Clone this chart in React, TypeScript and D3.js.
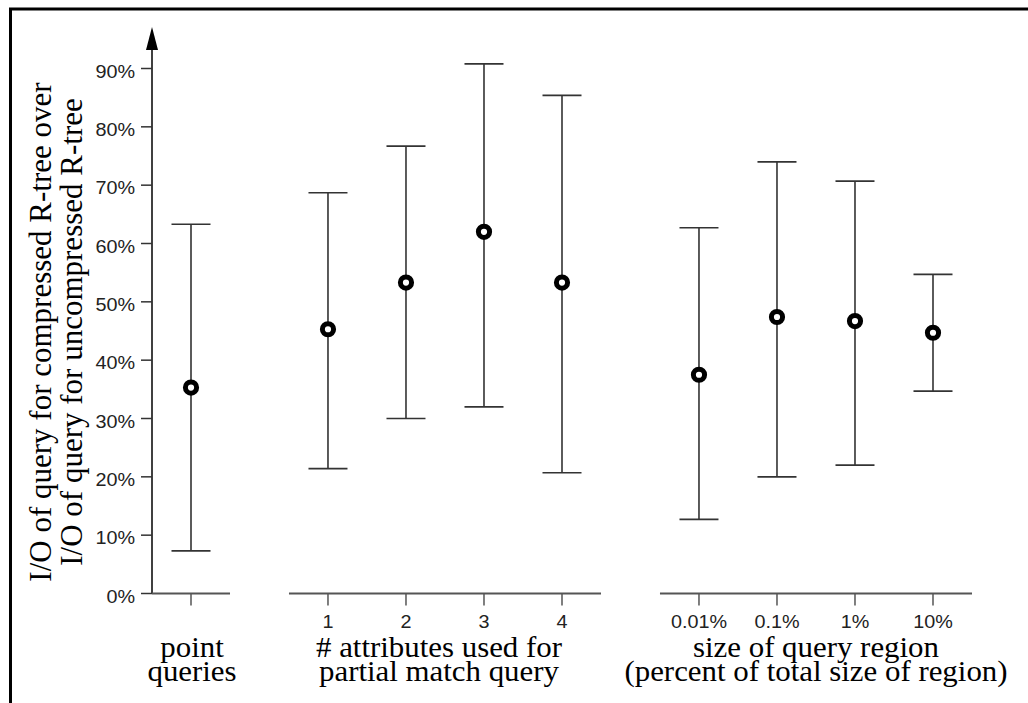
import React from "react";
import * as d3 from "d3";

// y tick values (fractions)
const yTicks = [0, 0.1, 0.2, 0.3, 0.4, 0.5, 0.6, 0.7, 0.8, 0.9];

// group 1: point queries
const pointTitle = ["point", "queries"];
const pointTicks = [""];
const pointMid = [0.353];
const pointLow = [0.073];
const pointHigh = [0.633];

// group 2: # attributes used for partial match query
const attrTitle = ["# attributes used for", "partial match query"];
const attrTicks = ["1", "2", "3", "4"];
const attrMid = [0.453, 0.533, 0.62, 0.533];
const attrLow = [0.214, 0.3, 0.32, 0.207];
const attrHigh = [0.687, 0.767, 0.908, 0.854];

// group 3: size of query region
const regionTitle = ["size of query region", "(percent of total size of region)"];
const regionTicks = ["0.01%", "0.1%", "1%", "10%"];
const regionMid = [0.375, 0.474, 0.467, 0.447];
const regionLow = [0.127, 0.2, 0.22, 0.347];
const regionHigh = [0.627, 0.74, 0.707, 0.547];

const yTitle = ["I/O of query for compressed R-tree over", "I/O of query for uncompressed R-tree"];

const SANS = "'Liberation Sans', Arial, sans-serif";
const SERIF = "'Liberation Serif', 'Times New Roman', serif";

export default function App() {
  const W = 1028;
  const H = 703;
  const groups = [
    { title: pointTitle, ticks: pointTicks, mid: pointMid, low: pointLow, high: pointHigh, shift: 1 },
    { title: attrTitle, ticks: attrTicks, mid: attrMid, low: attrLow, high: attrHigh, shift: -6 },
    { title: regionTitle, ticks: regionTicks, mid: regionMid, low: regionLow, high: regionHigh, shift: 0 },
  ];

  // layout in "slot" units, with a gap between groups
  const gap = 0.756;
  let acc = 0;
  const offsets = groups.map((g, i) => {
    const o = acc;
    acc += g.mid.length + (i < groups.length - 1 ? gap : 0);
    return o;
  });
  const total = acc;

  const x = d3.scaleLinear().domain([0, total]).range([152, 972]);
  const y = d3.scaleLinear().domain([0, 0.9]).range([593.5, 68.5]);
  const fmt = d3.format(".0%");
  const axisX = x(0);
  const capHalf = (x(1) - x(0)) / 4;

  return (
    <svg
      width={W}
      height={H}
      style={{ position: "absolute", left: 0, top: 0, background: "#fff" }}
    >
      {/* frame: only top and left */}
      <path d={`M10.5,${H} V9 H${W}`} fill="none" stroke="#000" strokeWidth={3} />

      {/* y title */}
      <g transform={`translate(0,332) rotate(-90)`}>
        {yTitle.map((t, i) => (
          <text
            key={i}
            x={0}
            y={51 + i * 31}
            textAnchor="middle"
            fontFamily={SERIF}
            fontSize={31}
            fill="#000"
          >
            {t}
          </text>
        ))}
      </g>

      {/* y axis with arrow */}
      <line x1={axisX} x2={axisX} y1={y(0)} y2={50} stroke="#000" strokeWidth={1.5} />
      <path d={`M${axisX - 6},50 L${axisX + 6},50 L${axisX},27 Z`} fill="#000" />
      {yTicks.map((t) => (
        <g key={t}>
          <line x1={axisX - 11} x2={axisX} y1={y(t)} y2={y(t)} stroke="#333" strokeWidth={1.5} />
          <text
            transform={`translate(135,${y(t) + 9}) scale(1.1,1)`}
            textAnchor="end"
            fontFamily={SANS}
            fontSize={18}
            fill="#222"
          >
            {fmt(t)}
          </text>
        </g>
      ))}

      {groups.map((g, gi) => {
        const o = offsets[gi];
        const n = g.mid.length;
        const cx = (i: number) => x(o + i + 0.5);
        const center = x(o + n / 2) + g.shift;
        return (
          <g key={gi}>
            {/* axis segment */}
            <line x1={x(o)} x2={x(o + n)} y1={y(0)} y2={y(0)} stroke="#555" strokeWidth={2.2} />
            {g.ticks.map((t, i) => (
              <g key={i}>
                <line x1={cx(i)} x2={cx(i)} y1={y(0)} y2={y(0) + 12} stroke="#555" strokeWidth={1.5} />
                <text
                  transform={`translate(${cx(i)},628) scale(1.1,1)`}
                  textAnchor="middle"
                  fontFamily={SANS}
                  fontSize={18}
                  fill="#222"
                >
                  {t}
                </text>
              </g>
            ))}
            {g.title.map((t, i) => (
              <text
                key={i}
                transform={`translate(${center},${657 + i * 24}) scale(1.065,1)`}
                textAnchor="middle"
                fontFamily={SERIF}
                fontSize={29}
                fill="#000"
              >
                {t}
              </text>
            ))}
            {/* error bars */}
            {g.mid.map((m, i) => (
              <g key={i}>
                <line x1={cx(i)} x2={cx(i)} y1={y(g.low[i])} y2={y(g.high[i])} stroke="#333" strokeWidth={1.6} />
                <line x1={cx(i) - capHalf} x2={cx(i) + capHalf} y1={y(g.high[i])} y2={y(g.high[i])} stroke="#333" strokeWidth={1.6} />
                <line x1={cx(i) - capHalf} x2={cx(i) + capHalf} y1={y(g.low[i])} y2={y(g.low[i])} stroke="#333" strokeWidth={1.6} />
                <circle cx={cx(i)} cy={y(m)} r={5.6} fill="#fff" stroke="#000" strokeWidth={5} />
              </g>
            ))}
          </g>
        );
      })}
    </svg>
  );
}
